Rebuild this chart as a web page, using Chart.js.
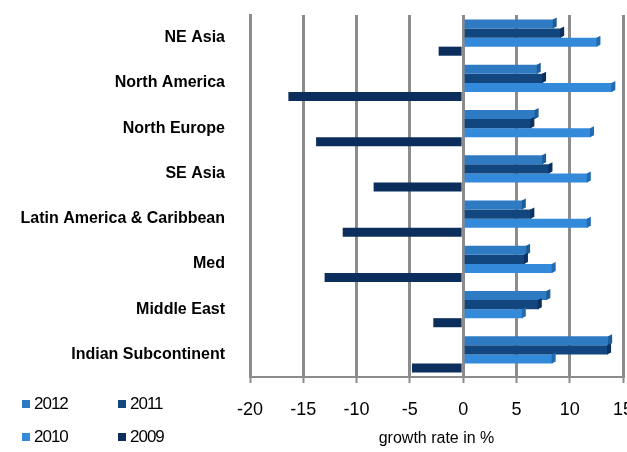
<!DOCTYPE html>
<html>
<head>
<meta charset="utf-8">
<script src="https://cdn.jsdelivr.net/npm/chart.js@4/dist/chart.umd.min.js"></script>
<style>
  html, body { margin: 0; padding: 0; background: #fff; }
  #wrap { position: relative; width: 627px; height: 452px; }
  #legend { position: absolute; left: 22px; top: 394px; font-family: "Liberation Sans", Arial, sans-serif; font-size: 17px; letter-spacing: -1px; }
  .item { position: absolute; white-space: nowrap; }
  .sw { display: inline-block; width: 8px; height: 8px; margin-right: 4px; vertical-align: 1px; }
</style>
</head>
<body>
<div id="wrap">
  <canvas id="chart" width="627" height="452"></canvas>
  <div id="legend"></div>
</div>
<script>
const regions = ['NE Asia', 'North America', 'North Europe', 'SE Asia',
  'Latin America & Caribbean', 'Med', 'Middle East', 'Indian Subcontinent'];
const years = ['2012', '2011', '2010', '2009'];
const growth2012 = [8.5, 7.0, 6.8, 7.5, 5.6, 6.0, 7.9, 13.7];
const growth2011 = [9.2, 7.5, 6.4, 8.1, 6.4, 5.8, 7.1, 13.6];
const growth2010 = [12.6, 14.0, 12.0, 11.7, 11.7, 8.4, 5.6, 8.4];
const growth2009 = [-2.3, -16.4, -13.8, -8.4, -11.3, -13.0, -2.8, -4.8];
const xTicks = [-20, -15, -10, -5, 0, 5, 10, 15];

const colors = ['#2e7bc4', '#12467f', '#338adb', '#0b2e5c'];
const capColors = ['#1f5d99', '#0b3160', '#236bb0', '#071f40'];
const series = [growth2012, growth2011, growth2010, growth2009];

// fake 3d end caps on the bars
const depth = {
  id: 'depth',
  afterDatasetsDraw(chart) {
    const ctx = chart.ctx;
    chart.data.datasets.forEach((ds, i) => {
      chart.getDatasetMeta(i).data.forEach((bar, j) => {
        if (ds.data[j] <= 0) return;
        const h = bar.height;
        const top = bar.y - h / 2;
        ctx.fillStyle = capColors[i];
        ctx.beginPath();
        ctx.moveTo(bar.x - 1, top);
        ctx.lineTo(bar.x + 3, top - 2);
        ctx.lineTo(bar.x + 3, top + h - 2);
        ctx.lineTo(bar.x - 1, top + h);
        ctx.closePath();
        ctx.fill();
      });
    });
  }
};

const ctx = document.getElementById('chart').getContext('2d');
const myChart = new Chart(ctx, {
  type: 'bar',
  data: {
    labels: regions,
    datasets: years.map((y, i) => ({
      label: y,
      data: series[i],
      backgroundColor: colors[i],
      borderWidth: 0,
      categoryPercentage: 0.8,
      barPercentage: 1.0
    }))
  },
  options: {
    indexAxis: 'y',
    responsive: false,
    animation: false,
    devicePixelRatio: 1,
    layout: { padding: { top: 15, right: 4, left: 0, bottom: 0 } },
    plugins: {
      legend: { display: false },
      tooltip: { enabled: false }
    },
    scales: {
      x: {
        min: -20,
        max: 15,
        afterBuildTicks: (scale) => { scale.ticks = xTicks.map(v => ({ value: v })); },
        afterFit: (scale) => { scale.height = 75; scale.paddingRight = 0; scale.paddingLeft = 0; },
        grid: { color: '#8c8c8c', lineWidth: 3, tickLength: 6, tickColor: '#8c8c8c', tickWidth: 2 },
        border: { color: '#8c8c8c', width: 2 },
        ticks: {
          color: '#000',
          padding: 16,
          font: { family: 'Liberation Sans', size: 18 }
        },
        title: {
          display: true,
          text: 'growth rate in %',
          color: '#000',
          padding: { top: 5 },
          font: { family: 'Liberation Sans', size: 16 }
        }
      },
      y: {
        afterFit: (scale) => { scale.width = 250; scale.paddingTop = 0; scale.paddingBottom = 0; },
        grid: { drawOnChartArea: false, drawTicks: false },
        border: { color: '#8c8c8c', width: 3 },
        ticks: {
          color: '#000',
          padding: 25,
          font: { family: 'Liberation Sans', size: 16, weight: 'bold' }
        }
      }
    }
  },
  plugins: [depth]
});

// legend in two rows of two
const legend = document.getElementById('legend');
years.forEach((y, i) => {
  const el = document.createElement('div');
  el.className = 'item';
  el.style.left = (i % 2 ? 96 : 0) + 'px';
  el.style.top = (i < 2 ? 0 : 33) + 'px';
  el.innerHTML = '<span class="sw" style="background:' + colors[i] + '"></span>' + y;
  legend.appendChild(el);
});
</script>
</body>
</html>
